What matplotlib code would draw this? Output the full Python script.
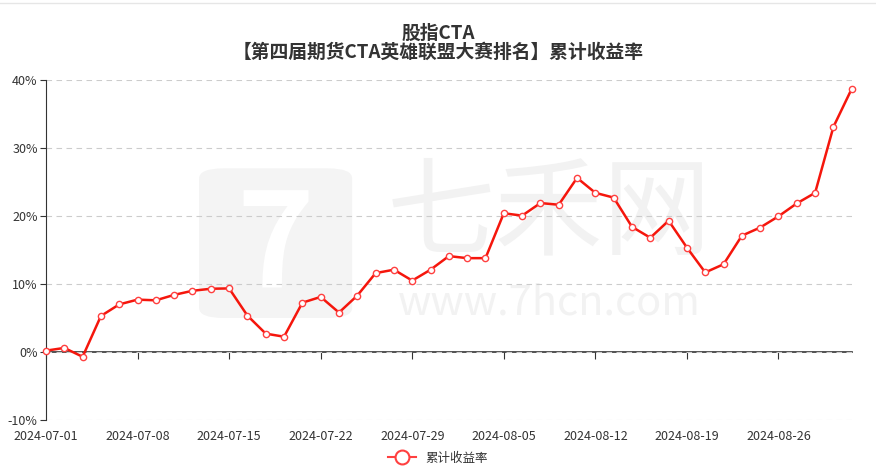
import numpy as np
import pandas as pd
import matplotlib.pyplot as plt
from matplotlib.lines import Line2D
from matplotlib.patches import FancyBboxPatch
from matplotlib.ticker import FuncFormatter

plt.rcParams['font.family'] = ['Noto Sans CJK SC', 'DejaVu Sans']

# 数据
dates = pd.bdate_range('2024-07-01', '2024-08-30')
returns = [0.2, 0.6, -0.7, 5.3, 7.0, 7.7, 7.6, 8.4, 9.0, 9.3,
           9.35, 5.35, 2.7, 2.25, 7.25, 8.1, 5.8, 8.3, 11.6, 12.1,
           10.5, 12.1, 14.1, 13.8, 13.8, 20.4, 20.05, 21.9, 21.65, 25.6,
           23.4, 22.7, 18.4, 16.8, 19.3, 15.35, 11.7, 12.9, 17.1, 18.3,
           19.95, 21.85, 23.4, 33.1, 38.7]
y_ticks = [-10, 0, 10, 20, 30, 40]
title_1 = '股指CTA'
title_2 = '【第四届期货CTA英雄联盟大赛排名】累计收益率'
series_name = '累计收益率'

x = np.arange(len(dates))
tick_idx = x[::5]
tick_labels = dates[tick_idx].strftime('%Y-%m-%d')

text_col = '#333333'
red = '#f5160c'

fig = plt.figure(figsize=(8.76, 4.73), dpi=100)
ax = fig.add_axes([0.0525, 0.112, 0.9198, 0.719])

# 水印
ax.add_patch(FancyBboxPatch((0.19, 0.30), 0.19, 0.44,
                            boxstyle='round,pad=0,rounding_size=0.03',
                            transform=ax.transAxes, fc='#f4f4f4', ec='none', zorder=0))
ax.text(0.285, 0.50, '7', transform=ax.transAxes, ha='center', va='center',
        fontsize=95, fontweight='bold', color='white', zorder=0)
ax.text(0.625, 0.60, '七禾网', transform=ax.transAxes, ha='center', va='center',
        fontsize=78, color='#f2f2f2', zorder=0)
ax.text(0.625, 0.345, 'www.7hcn.com', transform=ax.transAxes, ha='center', va='center',
        fontsize=30, color='#f2f2f2', zorder=0)

ax.plot(x, returns, color=red, lw=1.8, marker='o', ms=4.5, mfc='white',
        mec='#ff4040', mew=1, zorder=5, clip_on=False, label=series_name)

ax.set_xlim(0, len(x) - 1)
ax.set_ylim(-10, 40)
ax.set_yticks(y_ticks)
ax.yaxis.set_major_formatter(FuncFormatter(lambda v, p: f'{v:.0f}%'))
ax.set_xticks(tick_idx)
ax.set_xticklabels(tick_labels)
ax.tick_params(axis='x', length=0, pad=7, labelsize=9, labelcolor=text_col)
ax.tick_params(axis='y', length=4, color=text_col, labelsize=9, labelcolor=text_col, pad=2)

for s in ['top', 'right', 'bottom']:
    ax.spines[s].set_visible(False)
ax.spines['left'].set_color(text_col)
ax.yaxis.grid(True, linestyle=(0, (5, 4)), color='#cccccc', lw=0.8)
ax.set_axisbelow(True)

# x 轴线在 0 处
sec = ax.secondary_xaxis(0, transform=ax.transData)
sec.set_xticks(tick_idx)
sec.set_xticklabels([])
sec.tick_params(length=5, direction='out', color=text_col)
sec.spines['bottom'].set_color(text_col)
sec.spines['bottom'].set_linewidth(1.2)

fig.text(0.5, 1 - 33 / 473, title_1, ha='center', va='center',
         fontsize=13.5, fontweight='bold', color=text_col)
fig.text(0.5, 1 - 52 / 473, title_2, ha='center', va='center',
         fontsize=13.5, fontweight='bold', color=text_col)

handle = Line2D([], [], color='#ff4040', lw=1.5, marker='o', ms=10,
                mfc='white', mec='#ff4040', mew=1.5)
fig.legend([handle], [series_name], loc='center', bbox_to_anchor=(0.5, 1 - 458 / 473),
           frameon=False, fontsize=9, handlelength=2.2, labelcolor=text_col)

fig.add_artist(Line2D([0, 1], [0.994, 0.994], color='#e6e6e6', lw=1))

fig.savefig('out.png', dpi=100)
